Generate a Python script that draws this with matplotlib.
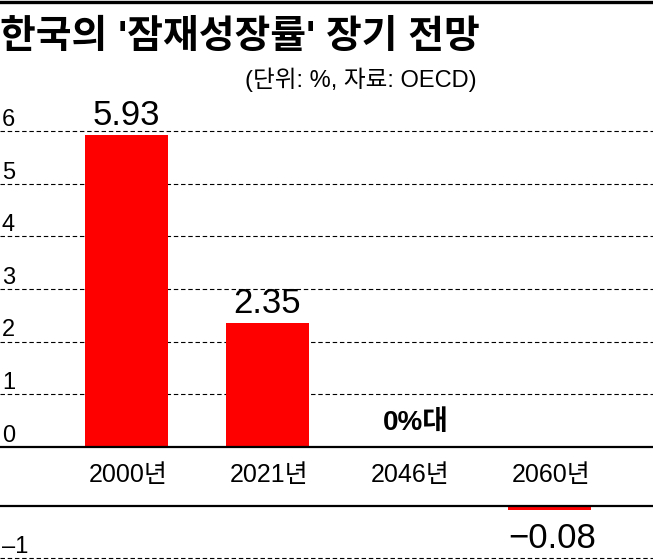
import matplotlib
matplotlib.use("Agg")
import matplotlib.pyplot as plt
import matplotlib.transforms as mtransforms
from matplotlib import font_manager
from matplotlib.lines import Line2D

# --- data ---
years = ["2000년", "2021년", "2046년", "2060년"]
growth = [5.93, 2.35, 0.0, -0.08]
value_labels = ["5.93", "2.35", "0%대", "−0.08"]
upper_ticks = [0, 1, 2, 3, 4, 5, 6]
lower_ticks = [-1]
title = "한국의 '잠재성장률' 장기 전망"
subtitle = "(단위: %, 자료: OECD)"

# --- fonts: narrow latin if present, korean fallback ---
installed = {f.name for f in font_manager.fontManager.ttflist}
narrow = "Liberation Sans Narrow" if "Liberation Sans Narrow" in installed else "Liberation Sans"
plt.rcParams["font.family"] = [narrow, "Noto Sans CJK KR", "DejaVu Sans"]

W, H = 653, 560
RED = "#ff0000"


def fy(px):
    # pixel row from the top -> figure fraction
    return 1 - px / H


fig = plt.figure(figsize=(W / 100, H / 100), dpi=100)

# layout in pixels
zero_upper = 446.7   # y of 0 in the upper panel
zero_lower = 505.7   # y of 0 in the lower (negative) panel
unit = 52.6          # pixels per percentage point
x = list(range(len(years)))
xlim = (-126.5 / 141, 3 + (W - 549.5) / 141)
bar_w = 83 / 141

ax = fig.add_axes([0, fy(zero_upper), 1, 6.5 * unit / H])
ax.set_ylim(0, 6.5)
ax.set_xlim(*xlim)
ax.axis("off")

ax_neg = fig.add_axes([0, fy(zero_lower + 1.03 * unit), 1, 1.03 * unit / H])
ax_neg.set_ylim(-1.03, 0)
ax_neg.set_xlim(*xlim)
ax_neg.axis("off")

dash = (0, (4, 2.5))

# gridlines
for t in upper_ticks[1:]:
    ax.axhline(t, color="black", lw=0.8, ls=dash, zorder=0)
ax.axhline(0, color="black", lw=1.6, zorder=3, clip_on=False)
for t in lower_ticks:
    ax_neg.axhline(t, color="black", lw=0.8, ls=dash, zorder=0, clip_on=False)
ax_neg.axhline(0, color="black", lw=1.6, zorder=3, clip_on=False)

# bars
pos = [max(v, 0) for v in growth]
neg = [min(v, 0) for v in growth]
ax.bar(x, pos, width=bar_w, color=RED, zorder=2)
ax_neg.bar(x, neg, width=bar_w, color=RED, zorder=2)

# y tick labels sit just above their lines at the left edge
tr = mtransforms.blended_transform_factory(ax.transAxes, ax.transData)
for t in upper_ticks:
    ax.text(2 / W, t, str(t), transform=tr, ha="left", va="bottom", fontsize=17)
tr_neg = mtransforms.blended_transform_factory(ax_neg.transAxes, ax_neg.transData)
for t in lower_ticks:
    ax_neg.text(2 / W, t, str(t).replace("-", "–"), transform=tr_neg,
                ha="left", va="bottom", fontsize=17)

# value labels
for xi, v, lbl in zip(x, growth, value_labels):
    if v > 0:
        ax.annotate(lbl, (xi, v), xytext=(0, 2), textcoords="offset points",
                    ha="center", va="bottom", fontsize=25)
    elif v == 0:
        ax.annotate(lbl, (xi, v), xytext=(5, 8), textcoords="offset points",
                    ha="center", va="bottom", fontsize=20, fontweight="bold")
    else:
        ax_neg.annotate(lbl, (xi, v), xytext=(2, -9), textcoords="offset points",
                        ha="center", va="top", fontsize=25)

# category labels in the band between the two panels
for xi, yr in zip(x, years):
    ax.annotate(yr, (xi, 0), xytext=(1, -12), textcoords="offset points",
                ha="center", va="top", fontsize=18)

# heading
fig.add_artist(Line2D([0, 1], [fy(1.5), fy(1.5)], transform=fig.transFigure,
                      color="black", lw=2.4))
fig.text(0, fy(38), title, ha="left", va="center", fontsize=28, fontweight="black")
fig.text(477 / W, fy(80), subtitle, ha="right", va="center", fontsize=17)

fig.savefig("out.png", dpi=100)
